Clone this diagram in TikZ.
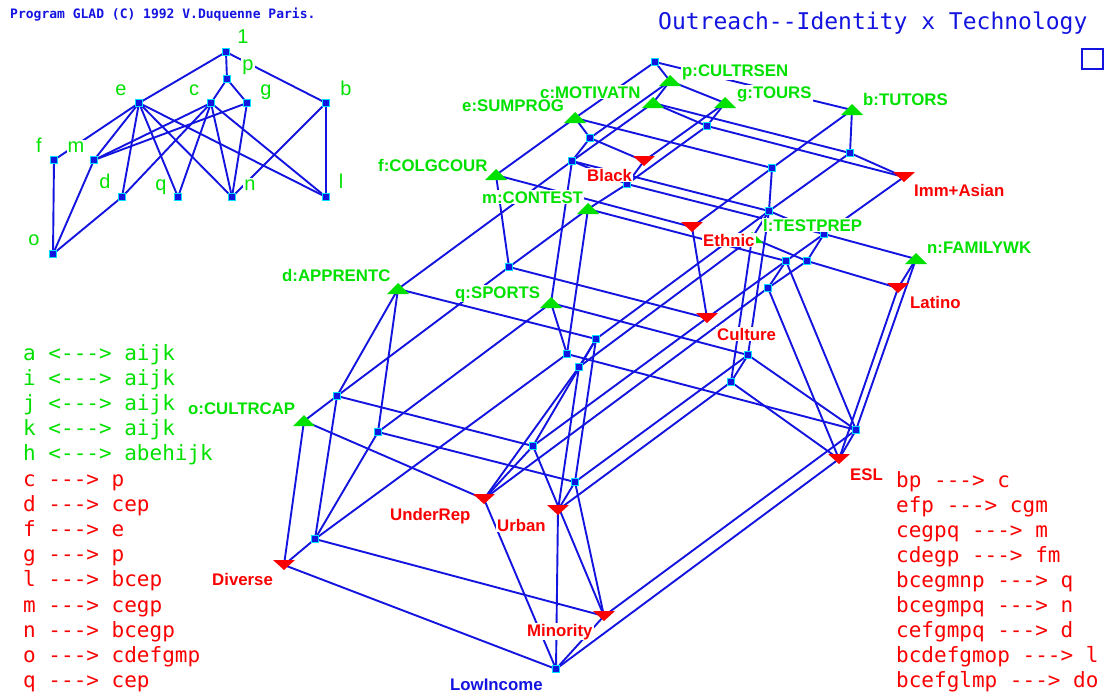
\documentclass[tikz,border=0pt]{standalone}
\usepackage{fontspec}
\newfontfamily\gladsans{Liberation Sans}
\newfontfamily\gladmono{DejaVu Sans Mono}
\definecolor{gladblue}{RGB}{20,20,225}
\definecolor{gladgreen}{RGB}{0,225,0}
\definecolor{gladred}{RGB}{250,0,0}
\definecolor{gladcyan}{RGB}{0,225,255}
\newcommand{\dsh}{-\kern0pt-\kern0pt-}

\begin{document}
\begin{tikzpicture}[x=1pt, y=-1pt,
		conn/.style={gladblue, line width=1.9pt},
		conc/.style={rectangle, draw=gladcyan, fill=gladblue, line width=1.6pt, minimum size=7pt, inner sep=0pt},
		attrmark/.pic={\fill[gladgreen] (-11pt,-5pt) -- (11pt,-5pt) -- (0pt,6pt) -- cycle;},
		objmark/.pic={\fill[gladred] (-11pt,5pt) -- (11pt,5pt) -- (0pt,-5pt) -- cycle;},
		lbl/.style={font=\gladsans\bfseries\fontsize{16.8}{18}\selectfont, fill=white, inner sep=1pt, anchor=base west},
		attrlabel/.style={lbl, text=gladgreen},
		objlabel/.style={lbl, text=gladred},
		smalllbl/.style={font=\gladsans\fontsize{20}{22}\selectfont, text=gladgreen, fill=white, inner sep=1pt, anchor=base},
		implic/.style={font=\gladmono\fontsize{21}{25}\selectfont, inner sep=0pt, anchor=base west}
	]
	\fill[white] (0,0) rectangle (1120,696);

	% heading
	\node[font=\gladmono\bfseries\fontsize{13}{15}\selectfont, text=gladblue, anchor=base west, inner sep=0pt] (prog) at (10,18) {Program GLAD (C) 1992 V.Duquenne Paris.};
	\node[font=\gladmono\fontsize{23}{26}\selectfont, text=gladblue, anchor=base west, inner sep=0pt] (title) at (658,29) {Outreach-\kern0pt-Identity x Technology};
	\draw[gladblue, line width=1.4pt] (1082,49) rectangle (1103,69);

	% attribute order (small lattice)
	\coordinate (s1) at (226,52);
	\coordinate (sp) at (227,79);
	\coordinate (se) at (139,103);
	\coordinate (sc) at (211,103);
	\coordinate (sg) at (247,103);
	\coordinate (sb) at (326,103);
	\coordinate (sf) at (54,160);
	\coordinate (sm) at (94,160);
	\coordinate (sd) at (122,197);
	\coordinate (sq) at (178,197);
	\coordinate (sn) at (232,197);
	\coordinate (sl) at (326,197);
	\coordinate (so) at (53,254);

	\foreach \na/\nb in {s1/se,s1/sp,s1/sb,sp/sc,sp/sg,se/sf,se/sm,se/sd,se/sq,se/sn,se/sl,
			sc/sm,sc/sd,sc/sq,sc/sn,sc/sl,sg/sm,sg/sn,sb/sn,sb/sl,sf/so,sm/so,sd/so}
		\draw[conn] (\na) -- (\nb);

	% concept lattice
	\coordinate (top) at (655,62);
	\coordinate (ep) at (590,138);
	\coordinate (cep) at (572,161);
	\coordinate (cgp) at (707,126);
	\coordinate (be) at (772,168);
	\coordinate (cegp) at (627,184);
	\coordinate (bcep) at (769,211);
	\coordinate (bcp) at (850,153);
	\coordinate (bcegp) at (824,234);
	\coordinate (bcegmp) at (786,261);
	\coordinate (bceglp) at (807,261);
	\coordinate (bceglmp) at (768,288);
	\coordinate (cefgmp) at (509,267);
	\coordinate (bcdep) at (596,339);
	\coordinate (cegmpq) at (567,354);
	\coordinate (bcdelp) at (579,367);
	\coordinate (cdefgmp) at (337,396);
	\coordinate (cdepq) at (378,432);
	\coordinate (bcdefgmp) at (533,446);
	\coordinate (bcepq) at (748,355);
	\coordinate (bcelpq) at (731,382);
	\coordinate (bcegmnpq) at (856,430);
	\coordinate (bcdepq) at (575,482);
	\coordinate (cdefgmpq) at (315,539);
	\coordinate (bot) at (556,669);

	\coordinate (ap) at (670,81);
	\coordinate (ac) at (653,103);
	\coordinate (ag) at (725,103);
	\coordinate (ae) at (575,118);
	\coordinate (ab) at (852,110);
	\coordinate (af) at (496,175);
	\coordinate (am) at (588,209);
	\coordinate (al) at (752,238);
	\coordinate (an) at (916,259);
	\coordinate (ad) at (398,289);
	\coordinate (aq) at (551,303);
	\coordinate (ao) at (304,421);

	\coordinate (black) at (644,161);
	\coordinate (imm) at (904,177);
	\coordinate (ethnic) at (692,227);
	\coordinate (latino) at (898,288);
	\coordinate (culture) at (707,318);
	\coordinate (esl) at (839,459);
	\coordinate (underrep) at (484,499);
	\coordinate (urban) at (558,510);
	\coordinate (diverse) at (284,565);
	\coordinate (minority) at (604,616);

	\foreach \na/\nb in {top/ap,top/ae,top/ab,ap/ac,ap/ag,ae/ep,ap/ep,ab/be,ae/be,ae/af,
			ac/cep,ep/cep,ac/cgp,ag/cgp,ep/black,ag/black,ab/bcp,ac/bcp,be/ethnic,af/ethnic,
			cep/cegp,cgp/cegp,black/cegp,cep/bcep,bcp/bcep,be/bcep,cgp/imm,bcp/imm,cep/aq,cep/ad,
			cegp/am,cegp/bcegp,bcep/bcegp,imm/bcegp,bcep/al,bcep/bcepq,aq/bcepq,bcep/bcdep,ad/bcdep,aq/cdepq,
			ad/cdepq,bcegp/an,bcegp/bcegmp,am/bcegmp,bcegp/bceglp,al/bceglp,am/cefgmp,af/cefgmp,am/cegmpq,aq/cegmpq,
			al/bcelpq,bcepq/bcelpq,al/bcdelp,bcdep/bcdelp,bcepq/bcdepq,bcdep/bcdepq,cdepq/bcdepq,bcegmp/bceglmp,bceglp/bceglmp,an/latino,
			bceglp/latino,bcegmp/culture,cefgmp/culture,ethnic/culture,cefgmp/cdefgmp,ad/cdefgmp,cdefgmp/ao,culture/bcdefgmp,cdefgmp/bcdefgmp,bcdep/bcdefgmp,
			an/bcegmnpq,bcegmp/bcegmnpq,cegmpq/bcegmnpq,bcepq/bcegmnpq,cdefgmp/cdefgmpq,cegmpq/cdefgmpq,cdepq/cdefgmpq,bcelpq/urban,bcdelp/urban,bcdepq/urban,
			bcegmnpq/esl,bceglmp/esl,latino/esl,bcelpq/esl,ao/diverse,cdefgmpq/diverse,ao/underrep,bcdefgmp/underrep,bceglmp/underrep,bcdelp/underrep,
			bcdefgmp/minority,bcegmnpq/minority,cdefgmpq/minority,bcdepq/minority,underrep/bot,minority/bot,diverse/bot,esl/bot,urban/bot}
		\draw[conn] (\na) -- (\nb);

	% marks
	\foreach \n in {s1,sp,se,sc,sg,sb,sf,sm,sd,sq,sn,sl,so,
			top,ep,cep,cgp,be,cegp,bcep,bcp,bcegp,bcegmp,bceglp,bceglmp,cefgmp,bcdep,
			cegmpq,bcdelp,cdefgmp,cdepq,bcdefgmp,bcepq,bcelpq,bcegmnpq,bcdepq,cdefgmpq,bot}
		\node[conc] (\n-sq) at (\n) {};
	\foreach \n in {ap,ac,ag,ae,ab,af,am,al,an,ad,aq,ao}
		\pic at (\n) {attrmark};
	\foreach \n in {black,imm,ethnic,latino,culture,esl,underrep,urban,diverse,minority}
		\pic at (\n) {objmark};

	% small lattice letters
	\node[smalllbl] (t1) at (243,43) {1};
	\node[smalllbl] (tp) at (248,70) {p};
	\node[smalllbl] (te) at (121,95) {e};
	\node[smalllbl] (tc) at (194,95) {c};
	\node[smalllbl] (tg) at (266,95) {g};
	\node[smalllbl] (tb) at (346,95) {b};
	\node[smalllbl] (tf) at (39,152) {f};
	\node[smalllbl] (tm) at (76,152) {m};
	\node[smalllbl] (td) at (105,188) {d};
	\node[smalllbl] (tq) at (161,190) {q};
	\node[smalllbl] (tn) at (250,190) {n};
	\node[smalllbl] (tl) at (341,188) {l};
	\node[smalllbl] (to) at (34,245) {o};

	% attribute labels
	\node[attrlabel] (lp) at (681,76) {p:CULTRSEN};
	\node[attrlabel] (lc) at (539,98) {c:MOTIVATN};
	\node[attrlabel] (lg) at (736,98) {g:TOURS};
	\node[attrlabel] (le) at (461,111) {e:SUMPROG};
	\node[attrlabel] (lb) at (862,105) {b:TUTORS};
	\node[attrlabel] (lf) at (377,171) {f:COLGCOUR};
	\node[attrlabel] (lm) at (481,203) {m:CONTEST};
	\node[attrlabel] (ll) at (762,231) {l:TESTPREP};
	\node[attrlabel] (ln) at (926,253) {n:FAMILYWK};
	\node[attrlabel] (ld) at (281,281) {d:APPRENTC};
	\node[attrlabel] (lq) at (454,298) {q:SPORTS};
	\node[attrlabel] (lo) at (187,414) {o:CULTRCAP};

	% object labels
	\node[objlabel] (lblack) at (586,181) {Black};
	\node[objlabel] (limm) at (913,196) {Imm+Asian};
	\node[objlabel] (lethnic) at (702,246) {Ethnic};
	\node[objlabel] (llatino) at (909,308) {Latino};
	\node[objlabel] (lculture) at (716,340) {Culture};
	\node[objlabel] (lesl) at (849,480) {ESL};
	\node[objlabel] (lunder) at (389,520) {UnderRep};
	\node[objlabel] (lurban) at (496,531) {Urban};
	\node[objlabel] (ldiverse) at (211,585) {Diverse};
	\node[objlabel] (lminority) at (526,636) {Minority};
	\node[lbl, text=gladblue] (llow) at (449,690) {LowIncome};

	% implications
	\foreach \txt [count=\i from 0] in {a <\dsh> aijk, i <\dsh> aijk, j <\dsh> aijk, k <\dsh> aijk, h <\dsh> abehijk}
		\node[implic, text=gladgreen] (eq\i) at (23,360+25.2*\i) {\txt};
	\foreach \txt [count=\i from 5] in {c \dsh> p, d \dsh> cep, f \dsh> e, g \dsh> p, l \dsh> bcep,
			m \dsh> cegp, n \dsh> bcegp, o \dsh> cdefgmp, q \dsh> cep}
		\node[implic, text=gladred] (im\i) at (23,360+25.2*\i) {\txt};
	\foreach \txt [count=\i from 0] in {bp \dsh> c, efp \dsh> cgm, cegpq \dsh> m, cdegp \dsh> fm, bcegmnp \dsh> q,
			bcegmpq \dsh> n, cefgmpq \dsh> d, bcdefgmop \dsh> l, bcefglmp \dsh> do}
		\node[implic, text=gladred] (rt\i) at (896,487+25.1*\i) {\txt};
\end{tikzpicture}
\end{document}
